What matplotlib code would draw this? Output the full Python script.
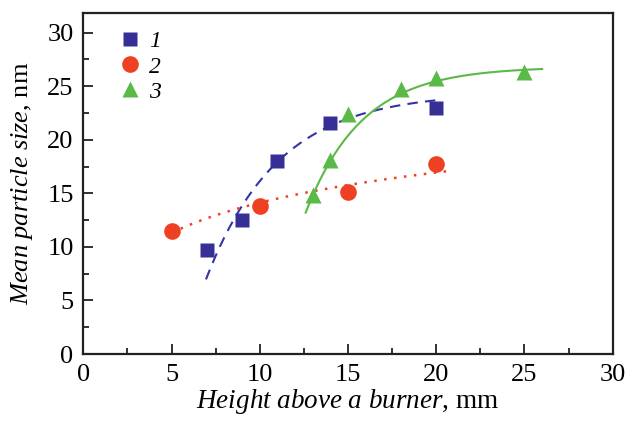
import numpy as np
import matplotlib
matplotlib.use("Agg")
import matplotlib.pyplot as plt
from matplotlib.ticker import MultipleLocator

plt.rcParams['font.family'] = ['Liberation Serif', 'DejaVu Serif']
plt.rcParams['mathtext.fontset'] = 'custom'
plt.rcParams['mathtext.rm'] = 'Liberation Serif'
plt.rcParams['mathtext.it'] = 'Liberation Serif:italic'

# measured sizes for the three flame conditions
h1 = [7, 9, 11, 14, 20]
d1 = [9.7, 12.5, 18.0, 21.6, 23.0]
h2 = [5, 10, 15, 20]
d2 = [11.5, 13.8, 15.1, 17.7]
h3 = [13, 14, 15, 18, 20, 25]
d3 = [14.8, 18.1, 22.4, 24.7, 25.8, 26.3]
labels = ['1', '2', '3']

# fitted trend curves
fit1 = dict(a=24.4, b=95.7, k=0.245, x0=6.95, x1=20.0)   # a - b*exp(-k x)
fit2 = dict(a=4.75, b=4.07, x0=5.0, x1=20.8)             # a + b*ln x
fit3 = dict(a=26.81, b=702.5, k=0.313, x0=12.6, x1=26.0) # a - b*exp(-k x)

blue = '#352f96'
red = '#ee4124'
green = '#5bb947'

fig = plt.figure(figsize=(6.37, 4.21), dpi=100)
ax = fig.add_axes([0.1308, 0.1591, 0.8311, 0.8107])

x = np.linspace(fit1['x0'], fit1['x1'], 200)
ax.plot(x, fit1['a'] - fit1['b'] * np.exp(-fit1['k'] * x), color='#3434a8',
        lw=1.5, dashes=(5, 3.5))
x = np.linspace(fit2['x0'], fit2['x1'], 200)
ax.plot(x, fit2['a'] + fit2['b'] * np.log(x), color=red, lw=1.8, ls=(0, (1, 3)))
x = np.linspace(fit3['x0'], fit3['x1'], 200)
ax.plot(x, fit3['a'] - fit3['b'] * np.exp(-fit3['k'] * x), color=green, lw=1.5)

ax.plot(h1, d1, ls='none', marker='s', ms=10, color=blue, mec='none', label=labels[0])
ax.plot(h2, d2, ls='none', marker='o', ms=12, color=red, mec='none', label=labels[1])
ax.plot(h3, d3, ls='none', marker='^', ms=12, color=green, mec='none', label=labels[2])

ax.set_xlim(0, 30)
ax.set_ylim(0, 31.86)
ax.xaxis.set_major_locator(MultipleLocator(5))
ax.xaxis.set_minor_locator(MultipleLocator(2.5))
ax.yaxis.set_major_locator(MultipleLocator(5))
ax.yaxis.set_minor_locator(MultipleLocator(2.5))
ax.tick_params(which='both', direction='in', top=False, right=False,
               labelsize=19, width=1.3, color='#222222')
ax.tick_params(which='major', length=7)
ax.tick_params(which='minor', length=4)
ax.tick_params(axis='x', pad=7)
ax.tick_params(axis='y', pad=7)
for s in ax.spines.values():
    s.set_linewidth(1.6)
    s.set_color('#222222')

ax.set_xlabel(r'$\it{Height\ above\ a\ burner}$, mm', fontsize=19.5, labelpad=1)
ax.set_ylabel(r'$\it{Mean\ particle\ size}$, nm', fontsize=19, labelpad=9)

ax.legend(loc='upper left', bbox_to_anchor=(0.03, 0.995), frameon=False,
          prop={'family': 'Liberation Serif', 'style': 'italic', 'size': 17},
          handletextpad=0.2, labelspacing=0.15, handlelength=1.2, borderaxespad=0.3)

fig.savefig('out.png', dpi=100)
